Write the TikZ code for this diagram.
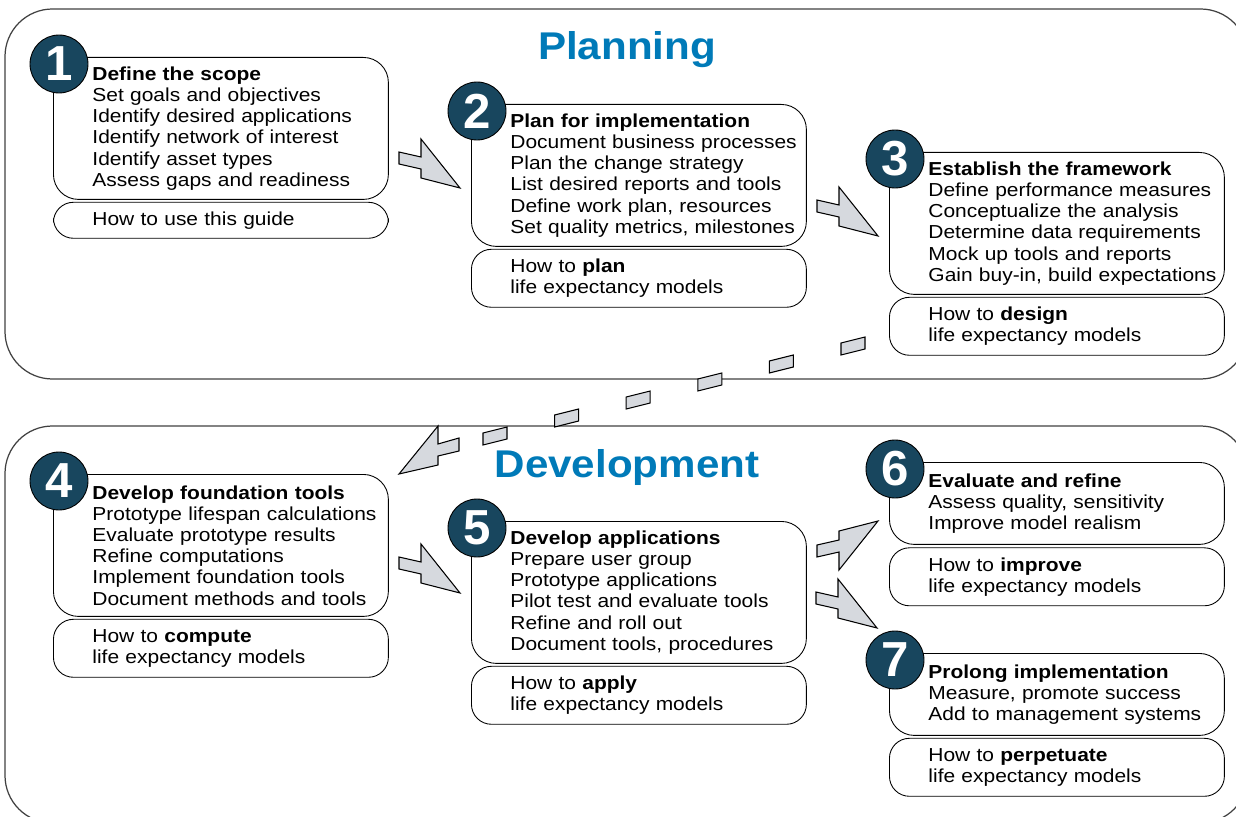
\documentclass[tikz,border=0pt]{standalone}
\usepackage{fontspec}
\setmainfont{Liberation Sans}
\newfontfamily\stepfont{Liberation Sans}[FakeStretch=1.115]
\newfontfamily\headfont{Liberation Sans}[FakeStretch=1.09]
\usetikzlibrary{positioning}
\definecolor{headblue}{RGB}{0,122,184}
\definecolor{dotteal}{RGB}{24,70,94}
\definecolor{arrowgray}{RGB}{214,217,222}

\begin{document}
\begin{tikzpicture}[x=0.02cm, y=-0.02cm,
  panel/.style={draw=black!75, line width=0.7pt, rounded corners=0.95cm},
  heading/.style={font=\headfont\fontsize{22}{24}\selectfont\bfseries, text=headblue},
  stepbox/.style={draw, line width=0.5pt, anchor=north west, minimum width=6.7cm,
    text width=6.7cm, inner xsep=0pt, inner ysep=0pt, align=left,
    font=\stepfont\fontsize{10.7}{12.07}\selectfont,
    execute at begin node={\leftskip=0.78cm \rightskip=0pt plus 1fil minus 0.6cm}},
  mainbox/.style={stepbox, rounded corners=0.5cm, minimum height=#1},
  howbox/.style={stepbox, rounded corners=0.4cm, minimum height=#1},
  numdot/.style={circle, draw, line width=0.5pt, fill=dotteal, minimum size=1.16cm,
    inner sep=0pt, text=white, font=\fontsize{28}{28}\selectfont\bfseries},
  arrowfill/.style={draw, line width=0.6pt, fill=arrowgray, line join=miter}]
  \useasboundingbox (0,0) rectangle (1236,817);
  \clip (0,0) rectangle (1236,817);

  \draw[panel] (5,9) rectangle (1248,379);
  \draw[panel] (5,426) rectangle (1248,823);
  \node[heading] (plan) at (627,50) {Planning};
  \node[heading] (devel) at (627,468) {Development};

  % planning steps
  \node[mainbox=2.84cm] (m1) at (53,57) {\textbf{Define the scope}\\Set goals and objectives\\Identify desired applications\\Identify network of interest\\Identify asset types\\Assess gaps and readiness};
  \node[howbox=0.72cm, below=0.04cm of m1] (h1) {How to use this guide};
  \node[mainbox=2.84cm] (m2) at (471,104) {\textbf{Plan for implementation}\\Document business processes\\Plan the change strategy\\List desired reports and tools\\Define work plan, resources\\Set quality metrics, milestones};
  \node[howbox=1.16cm, below=0.04cm of m2] (h2) {How to \textbf{plan}\\life expectancy models};
  \node[mainbox=2.84cm] (m3) at (889,152) {\textbf{Establish the framework}\\Define performance measures\\Conceptualize the analysis\\Determine data requirements\\Mock up tools and reports\\Gain buy-in, build expectations};
  \node[howbox=1.16cm, below=0.04cm of m3] (h3) {How to \textbf{design}\\life expectancy models};

  % development steps
  \node[mainbox=2.84cm] (m4) at (53,474) {\textbf{Develop foundation tools}\\Prototype lifespan calculations\\Evaluate prototype results\\Refine computations\\Implement foundation tools\\Document methods and tools};
  \node[howbox=1.16cm, below=0.04cm of m4] (h4) {How to \textbf{compute}\\life expectancy models};
  \node[mainbox=2.84cm] (m5) at (471,521) {\textbf{Develop applications}\\Prepare user group\\Prototype applications\\Pilot test and evaluate tools\\Refine and roll out\\Document tools, procedures};
  \node[howbox=1.16cm, below=0.04cm of m5] (h5) {How to \textbf{apply}\\life expectancy models};
  \node[mainbox=1.64cm] (m6) at (889,462) {\textbf{Evaluate and refine}\\Assess quality, sensitivity\\Improve model realism};
  \node[howbox=1.16cm, below=0.05cm of m6] (h6) {How to \textbf{improve}\\life expectancy models};
  \node[mainbox=1.64cm] (m7) at (889,653) {\textbf{Prolong implementation}\\Measure, promote success\\Add to management systems};
  \node[howbox=1.16cm, below=0.04cm of m7] (h7) {How to \textbf{perpetuate}\\life expectancy models};

  \foreach \n in {1,...,7}
    \node[numdot] (d\n) at ([shift={(6,7)}]m\n.north west) {\n};

  % block arrows
  \foreach \p in {(399,152),(817,200),(399,557),(816,592)}
    \draw[arrowfill, shift={\p}] (0,0) -- (22,5) -- (22,-13) -- (61,36) -- (22,26) -- (22,17) -- (0,12) -- cycle;
  \draw[arrowfill, shift={(817,557)}, yscale=-1] (0,0) -- (22,5) -- (22,-13) -- (61,36) -- (22,26) -- (22,17) -- (0,12) -- cycle;

  % dashed arrow from step 3 down to step 4
  \foreach \i in {0,...,5}
    \draw[arrowfill] ({841-71.6*\i},{343+18*\i}) -- ++(24,-6) -- ++(0,12) -- ++(-24,6) -- cycle;
  \draw[arrowfill] (459,438) -- (438,444) -- (438,426) -- (399,474) -- (438,465) -- (438,456) -- (459,451) -- cycle;
\end{tikzpicture}
\end{document}
